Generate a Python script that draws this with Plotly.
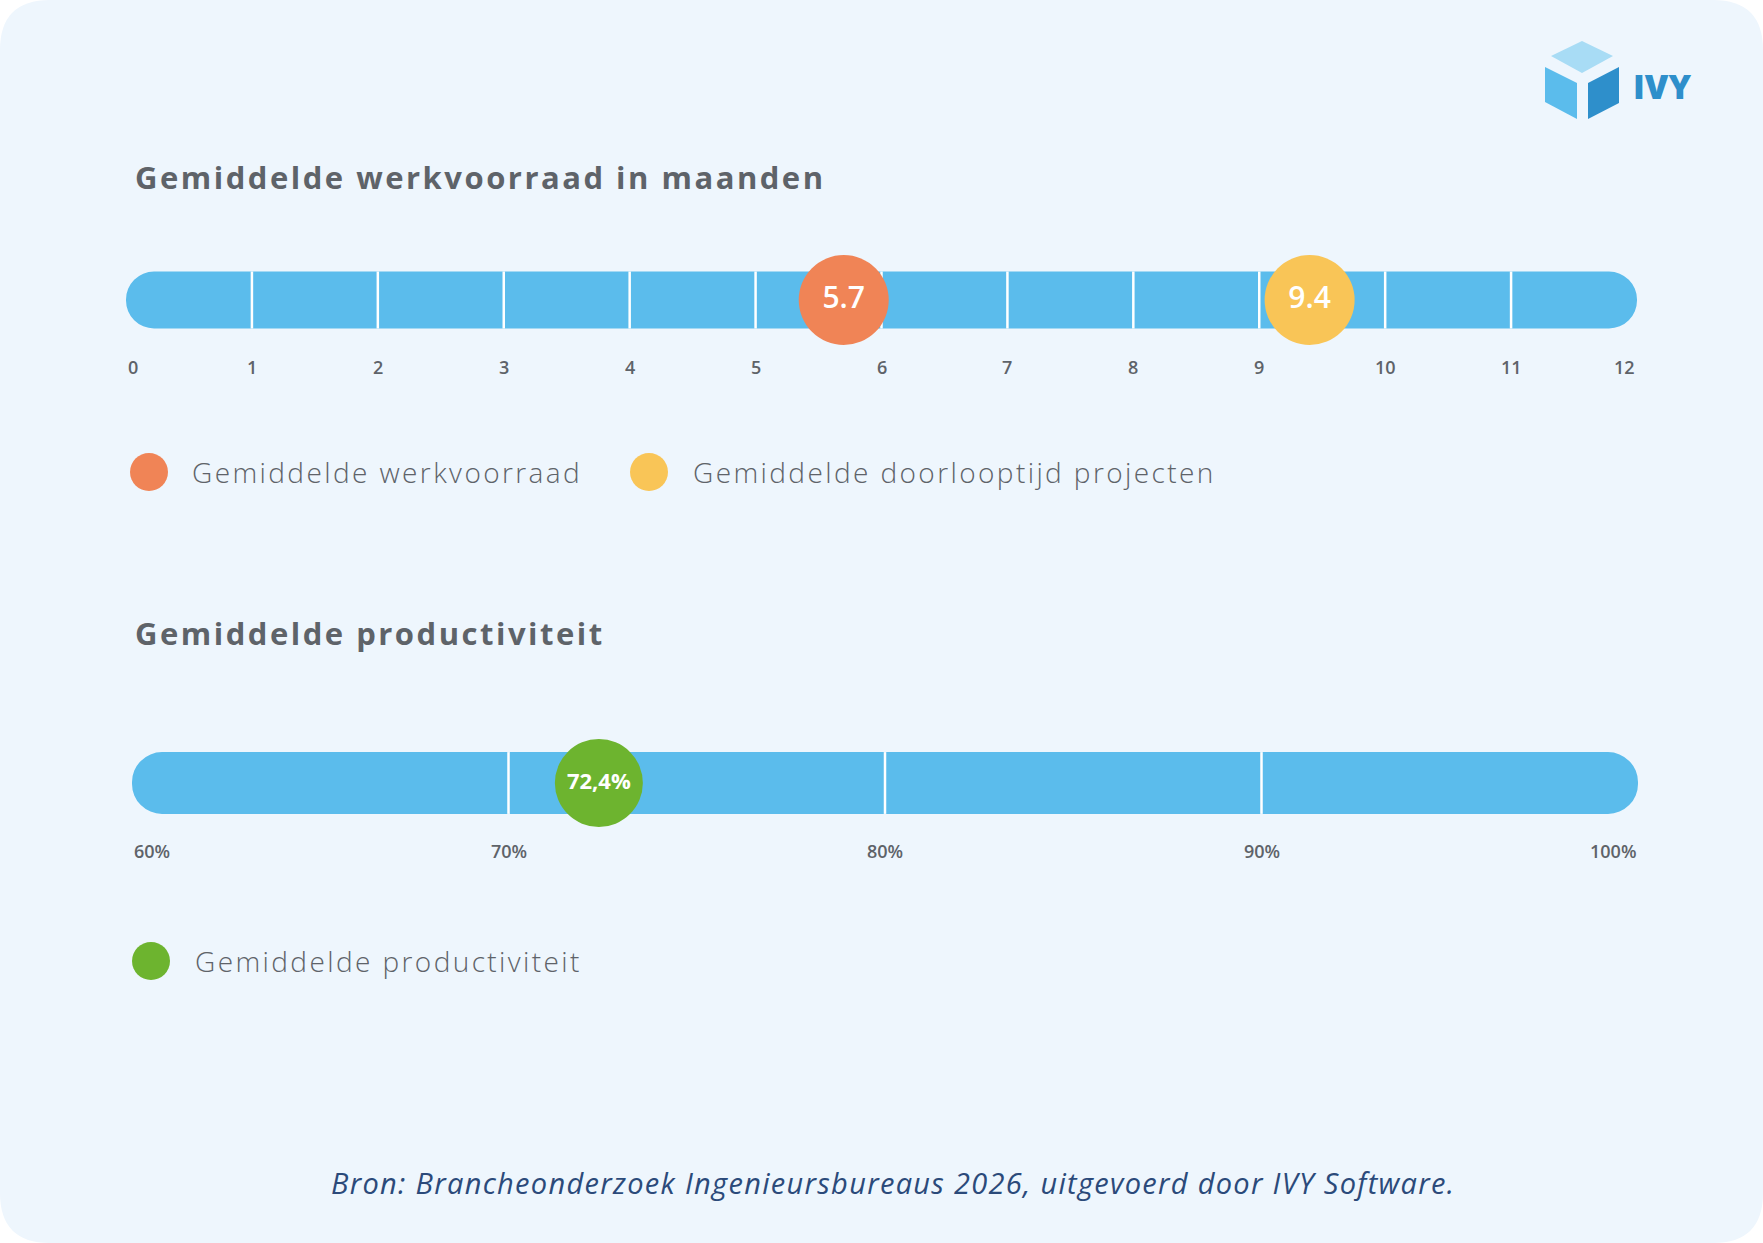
import plotly.graph_objects as go

# ---------------- data ----------------
top_title = "Gemiddelde werkvoorraad in maanden"
top_ticks = list(range(0, 13))
top_tick_labels = [str(t) for t in top_ticks]
top_series_names = ["Gemiddelde werkvoorraad", "Gemiddelde doorlooptijd projecten"]
top_values = [5.7, 9.4]
top_value_labels = ["5.7", "9.4"]

bottom_title = "Gemiddelde productiviteit"
bottom_ticks = [60, 70, 80, 90, 100]
bottom_tick_labels = ["60%", "70%", "80%", "90%", "100%"]
bottom_series_names = ["Gemiddelde productiviteit"]
bottom_values = [72.4]
bottom_value_labels = ["72,4%"]

source_text = "Bron: Brancheonderzoek Ingenieursbureaus 2026, uitgevoerd door IVY Software."

# ---------------- styles ----------------
W, H = 1763, 1243
FONT = "Open Sans"
CARD = "#EEF6FD"
BAR = "#5BBCEC"
GRAY = "#5E6369"
TOP_COLORS = ["#F08456", "#F9C557"]
BOTTOM_COLORS = ["#6DB42F"]
FOOT = "#2B4A7A"


def fx(p):
    return p / W


def fy(p):
    return 1 - p / H


def spaced(txt, ls):
    return f'<span style="letter-spacing:{ls}px">{txt}</span>'


fig = go.Figure()

# top track
bar_h_top = 0.95
fig.add_trace(go.Bar(
    x=[top_ticks[-1] - top_ticks[0]], base=[top_ticks[0]], y=[0], orientation="h",
    width=bar_h_top, marker=dict(color=BAR, cornerradius="50%", line_width=0),
    xaxis="x", yaxis="y", showlegend=False, hoverinfo="skip"))
dx, dy = [], []
for t in top_ticks[1:-1]:
    dx += [t, t, None]
    dy += [-bar_h_top / 2, bar_h_top / 2, None]
fig.add_trace(go.Scatter(x=dx, y=dy, mode="lines", line=dict(color="white", width=2.5),
                         xaxis="x", yaxis="y", showlegend=False, hoverinfo="skip"))
for v, lab, c, name in zip(top_values, top_value_labels, TOP_COLORS, top_series_names):
    fig.add_trace(go.Scatter(
        x=[v], y=[0], mode="markers+text", text=[lab], textposition="middle center",
        marker=dict(size=90, color=c, line_width=0),
        textfont=dict(family=FONT, size=30, color="white", weight=600),
        xaxis="x", yaxis="y", name=name, showlegend=False, hoverinfo="skip"))

# bottom track
bar_h_bot = 1.03
fig.add_trace(go.Bar(
    x=[bottom_ticks[-1] - bottom_ticks[0]], base=[bottom_ticks[0]], y=[0], orientation="h",
    width=bar_h_bot, marker=dict(color=BAR, cornerradius="50%", line_width=0),
    xaxis="x2", yaxis="y2", showlegend=False, hoverinfo="skip"))
dx, dy = [], []
for t in bottom_ticks[1:-1]:
    dx += [t, t, None]
    dy += [-bar_h_bot / 2, bar_h_bot / 2, None]
fig.add_trace(go.Scatter(x=dx, y=dy, mode="lines", line=dict(color="white", width=2.5),
                         xaxis="x2", yaxis="y2", showlegend=False, hoverinfo="skip"))
for v, lab, c, name in zip(bottom_values, bottom_value_labels, BOTTOM_COLORS, bottom_series_names):
    fig.add_trace(go.Scatter(
        x=[v], y=[0], mode="markers+text", text=[lab], textposition="middle center",
        marker=dict(size=88, color=c, line_width=0),
        textfont=dict(family=FONT, size=22, color="white", weight=700),
        xaxis="x2", yaxis="y2", name=name, showlegend=False, hoverinfo="skip"))

annotations = []
# tick labels
for i, (t, lab) in enumerate(zip(top_ticks, top_tick_labels)):
    anchor = "left" if i == 0 else ("right" if i == len(top_ticks) - 1 else "center")
    annotations.append(dict(x=t, xref="x", y=fy(367), yref="paper", text=lab, showarrow=False,
                            xanchor=anchor, yanchor="middle",
                            font=dict(family=FONT, size=18, color=GRAY, weight=600)))
for i, (t, lab) in enumerate(zip(bottom_ticks, bottom_tick_labels)):
    anchor = "left" if i == 0 else ("right" if i == len(bottom_ticks) - 1 else "center")
    annotations.append(dict(x=t, xref="x2", y=fy(851), yref="paper", text=lab, showarrow=False,
                            xanchor=anchor, yanchor="middle",
                            font=dict(family=FONT, size=18, color=GRAY, weight=600)))

# titles
for txt, py in [(top_title, 177), (bottom_title, 633)]:
    annotations.append(dict(x=fx(133), xref="paper", y=fy(py), yref="paper", text=spaced(txt, 2.5),
                            showarrow=False, xanchor="left", yanchor="middle",
                            font=dict(family=FONT, size=31, color=GRAY, weight=700)))

shapes = []
# card background with rounded corners
r = 50
rx, ry = r / W, r / H
card_path = (
    f"M {rx} 1 L {1 - rx} 1 Q 1 1 1 {1 - ry} L 1 {ry} Q 1 0 {1 - rx} 0 "
    f"L {rx} 0 Q 0 0 0 {ry} L 0 {1 - ry} Q 0 1 {rx} 1 Z"
)
shapes.append(dict(type="path", xref="paper", yref="paper", path=card_path,
                   fillcolor=CARD, line_width=0, layer="below"))

# manual legends
legend_items = [
    (top_series_names[0], TOP_COLORS[0], 149, 472, 190),
    (top_series_names[1], TOP_COLORS[1], 649, 472, 691),
    (bottom_series_names[0], BOTTOM_COLORS[0], 151, 961, 193),
]
for name, c, cx, cy, tx in legend_items:
    rr = 19
    shapes.append(dict(type="circle", xref="paper", yref="paper",
                       x0=fx(cx - rr), x1=fx(cx + rr), y0=fy(cy + rr), y1=fy(cy - rr),
                       fillcolor=c, line_width=0, layer="above"))
    annotations.append(dict(x=fx(tx), xref="paper", y=fy(cy), yref="paper", text=spaced(name, 2.4),
                            showarrow=False, xanchor="left", yanchor="middle",
                            font=dict(family=FONT, size=28, color=GRAY, weight=300)))

# footer
annotations.append(dict(x=fx(893), xref="paper", y=fy(1182), yref="paper", text=spaced(source_text, 1.3),
                        showarrow=False, xanchor="center", yanchor="middle",
                        font=dict(family=FONT, size=29, color=FOOT, style="italic")))


# logo (decoration)
def poly(pts):
    s = "M " + " L ".join(f"{fx(x)} {fy(y)}" for x, y in pts) + " Z"
    return s


shapes.append(dict(type="path", xref="paper", yref="paper", line_width=0, fillcolor="#A8DCF5",
                   path=poly([(1582, 41), (1613, 56), (1582, 73), (1551, 56)])))
shapes.append(dict(type="path", xref="paper", yref="paper", line_width=0, fillcolor="#5BBCEC",
                   path=poly([(1545, 67), (1577, 83), (1577, 119), (1545, 102)])))
shapes.append(dict(type="path", xref="paper", yref="paper", line_width=0, fillcolor="#2E8FCB",
                   path=poly([(1588, 83), (1619, 67), (1619, 103), (1588, 119)])))
annotations.append(dict(x=fx(1631), xref="paper", y=fy(86), yref="paper", text="IVY",
                        showarrow=False, xanchor="left", yanchor="middle",
                        font=dict(family=FONT, size=34, color="#2E8FCB", weight=800)))

fig.update_layout(
    width=W, height=H, margin=dict(l=0, r=0, t=0, b=0),
    paper_bgcolor="white", plot_bgcolor="rgba(0,0,0,0)",
    showlegend=False, barmode="overlay",
    xaxis=dict(domain=[fx(126), fx(1637)], range=[top_ticks[0], top_ticks[-1]], visible=False,
               anchor="y", fixedrange=True),
    yaxis=dict(domain=[fy(360), fy(240)], range=[-1, 1], visible=False, anchor="x", fixedrange=True),
    xaxis2=dict(domain=[fx(132), fx(1638)], range=[bottom_ticks[0], bottom_ticks[-1]], visible=False,
                anchor="y2", fixedrange=True),
    yaxis2=dict(domain=[fy(843), fy(723)], range=[-1, 1], visible=False, anchor="x2", fixedrange=True),
    annotations=annotations, shapes=shapes,
)

fig.write_html("out.html", config={"displayModeBar": False},
               post_script="document.body.style.margin='0';document.body.style.overflow='hidden';")
